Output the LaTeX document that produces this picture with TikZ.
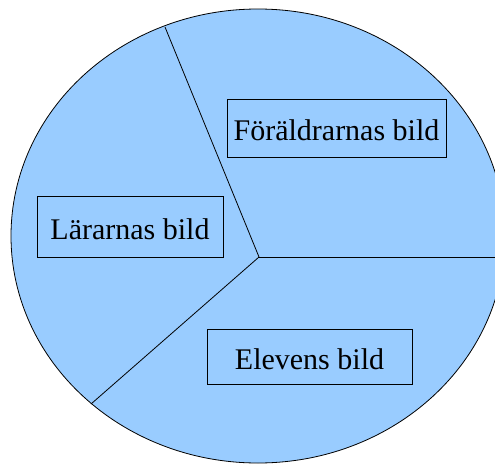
\documentclass[tikz,border=0pt]{standalone}
\usepackage{fontspec}
\setmainfont{Liberation Serif}
\definecolor{piefill}{RGB}{153,204,255}
\begin{document}
\begin{tikzpicture}[x=1pt,y=-1pt,
  lbl/.style={draw=black,line width=0.8pt,inner sep=0pt,font=\fontsize{30}{36}\selectfont,text height=25pt,text depth=0pt},
  divider/.style={draw=black,line width=0.8pt}]
\useasboundingbox (0,0) rectangle (495,463);
\clip (0,0) rectangle (495,463);
\filldraw[fill=piefill,draw=black,line width=0.8pt] (258,236) ellipse [x radius=247,y radius=227];
\coordinate (c) at (259,257);
\coordinate (t) at (165,27);
\coordinate (r) at (506,257);
\coordinate (l) at (91,404);
\draw[divider] (c) -- (t);
\draw[divider] (c) -- (r);
\draw[divider] (c) -- (l);
\node[lbl,minimum width=219pt,minimum height=58pt] (f) at (336.5,128) {Föräldrarnas bild};
\node[lbl,minimum width=186pt,minimum height=61pt] (la) at (130,226.5) {Lärarnas bild};
\node[lbl,minimum width=205pt,minimum height=55pt] (e) at (309.5,356.5) {Elevens bild};
\end{tikzpicture}
\end{document}
